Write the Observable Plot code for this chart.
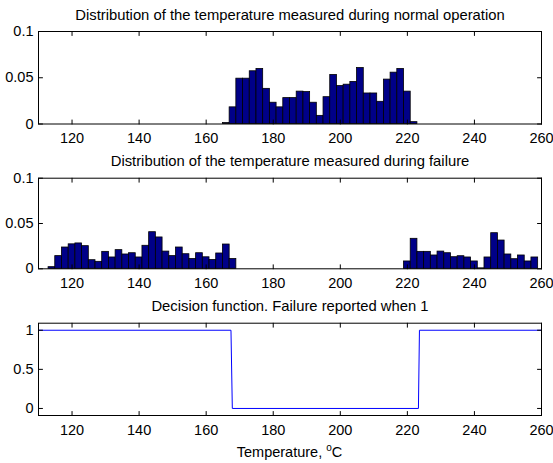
<!DOCTYPE html>
<html><head><meta charset="utf-8">
<script src="https://cdn.jsdelivr.net/npm/d3@7"></script>
<script src="https://cdn.jsdelivr.net/npm/@observablehq/plot@0.6"></script>
<style>
body{margin:0;background:#fff;}
#chart{position:relative;width:553px;height:463px;background:#fff;overflow:hidden;}
#chart svg{display:block;}
</style></head><body><div id="chart"></div>
<script>
// ---- data ----
const binCenters = [112,114,116,118,120,122,124,126,128,130,132,134,136,138,140,142,144,146,148,150,152,154,156,158,160,162,164,166,168,170,172,174,176,178,180,182,184,186,188,190,192,194,196,198,200,202,204,206,208,210,212,214,216,218,220,222,224,226,228,230,232,234,236,238,240,242,244,246,248,250,252,254,256,258];
const binWidth = 2;
const normalValues = [
  0,0,0,0,0,0,0,0,0,0,0,0,0,0,0,0,0,0,0,0,0,0,0,0,0,0,0,
  0.001,0.018,0.049,0.049,0.057,0.0595,0.038,0.023,0.018,0.028,0.028,0.035,0.0345,0.023,0.0088,0.029,0.053,0.041,0.0425,0.0455,0.0605,0.033,0.033,0.024,0.048,0.0555,0.0595,0.035,0.002,
  0,0,0,0,0,0,0,0,0,0,0,0,0,0,0,0,0,0
];
const failureValues = [
  0,
  0.0018,0.014,0.0235,0.027,0.028,0.025,0.0095,0.0077,0.0187,0.0125,0.0206,0.0158,0.0172,0.0125,0.0254,0.0404,0.0346,0.019,0.014,0.0235,0.0161,0.0108,0.0172,0.0127,0.0097,0.0169,0.0268,0.0108,
  0,0,0,0,0,0,0,0,0,0,0,0,0,0,0,0,0,0,0,0,0,0,0,0,0,
  0.0081,0.0331,0.0187,0.0187,0.0147,0.019,0.0172,0.0128,0.0139,0.0125,0.0081,0.0005,0.0125,0.0393,0.0312,0.0158,0.0106,0.0147,0.0081,0.0125
];
const decisionX = [110, 167.4, 167.8, 223.3, 223.6, 260];
const decisionY = [1, 1, 0, 0, 1, 1];
const xTicks = [120, 140, 160, 180, 200, 220, 240, 260];
const histYTicks = [0, 0.05, 0.1];
const decisionYTicks = [0, 0.5, 1];
const titles = [
  "Distribution of the temperature measured during normal operation",
  "Distribution of the temperature measured during failure",
  "Decision function. Failure reported when 1"
];
const xLabelParts = ["Temperature, ", "o", "C"];

// ---- helpers ----
const FONT = "'Liberation Sans', Arial, Helvetica, sans-serif";
const barFill = "#000088";
const tickShape = {draw(ctx, l) { ctx.moveTo(0, 0); ctx.lineTo(0, -l); }};
function innerTicks(xt, yt) {
  const o = {length: 4, anchor: "start", shape: tickShape, stroke: "black", strokeWidth: 1};
  return [
    Plot.vector(xt, {...o, x: d => d, frameAnchor: "bottom", rotate: 0}),
    Plot.vector(xt, {...o, x: d => d, frameAnchor: "top", rotate: 180}),
    Plot.vector(yt, {...o, y: d => d, frameAnchor: "left", rotate: 90}),
    Plot.vector(yt, {...o, y: d => d, frameAnchor: "right", rotate: -90})
  ];
}
function titleMark(t) {
  return Plot.text([t], {frameAnchor: "top", dy: -12, lineAnchor: "bottom", fontSize: 14.8, fill: "black"});
}
const common = {
  width: 553, marginLeft: 38, marginRight: 12,
  style: {fontFamily: FONT, fontSize: "14.5px", color: "black", background: "white", overflow: "visible"}
};
const xScale = {domain: [110, 260], ticks: xTicks, tickSize: 0, tickPadding: 9, label: null};

function histPanel(values, title, h, mt, mb) {
  const data = binCenters.map((c, i) => ({c, v: values[i]}));
  return Plot.plot({
    ...common, height: h, marginTop: mt, marginBottom: mb,
    x: xScale,
    y: {domain: [0, 0.1], ticks: histYTicks, tickSize: 0, tickPadding: 5, label: null, tickFormat: d => String(d)},
    marks: [
      Plot.rectY(data.filter(d => d.v > 0), {x1: d => d.c - binWidth / 2, x2: d => d.c + binWidth / 2, y: "v", fill: barFill, stroke: "black", strokeWidth: 0.8}),
      Plot.frame({stroke: "black", strokeWidth: 1}),
      ...innerTicks(xTicks, histYTicks),
      titleMark(title)
    ]
  });
}

const chart = document.getElementById("chart");
chart.append(histPanel(normalValues, titles[0], 147, 31, 23.5));
chart.append(histPanel(failureValues, titles[1], 145, 30.7, 23.7));

const decData = decisionX.map((x, i) => ({x, y: decisionY[i]}));
const p3 = Plot.plot({
  ...common, height: 171, marginTop: 30.7, marginBottom: 48,
  x: xScale,
  y: {domain: [-0.09, 1.09], ticks: decisionYTicks, tickSize: 0, tickPadding: 5, label: null, tickFormat: d => String(d)},
  marks: [
    Plot.line(decData, {x: "x", y: "y", stroke: "#0000ff", strokeWidth: 1}),
    Plot.frame({stroke: "black", strokeWidth: 1}),
    ...innerTicks(xTicks, decisionYTicks),
    titleMark(titles[2])
  ]
});
chart.append(p3);

// x label with superscript
const xs = p3.scale("x");
const cx = (xs.range[0] + xs.range[1]) / 2;
const svg3 = d3.select(p3.tagName.toLowerCase() === "svg" ? p3 : p3.querySelector("svg"));
const lab = svg3.append("text")
  .attr("x", cx).attr("y", 165).attr("text-anchor", "middle")
  .attr("font-size", 14.5).attr("fill", "black").attr("font-family", FONT);
lab.append("tspan").text(xLabelParts[0]);
lab.append("tspan").attr("font-size", 10).attr("dy", -6).text(xLabelParts[1]);
lab.append("tspan").attr("dy", 6).text(xLabelParts[2]);
</script>
</body></html>
